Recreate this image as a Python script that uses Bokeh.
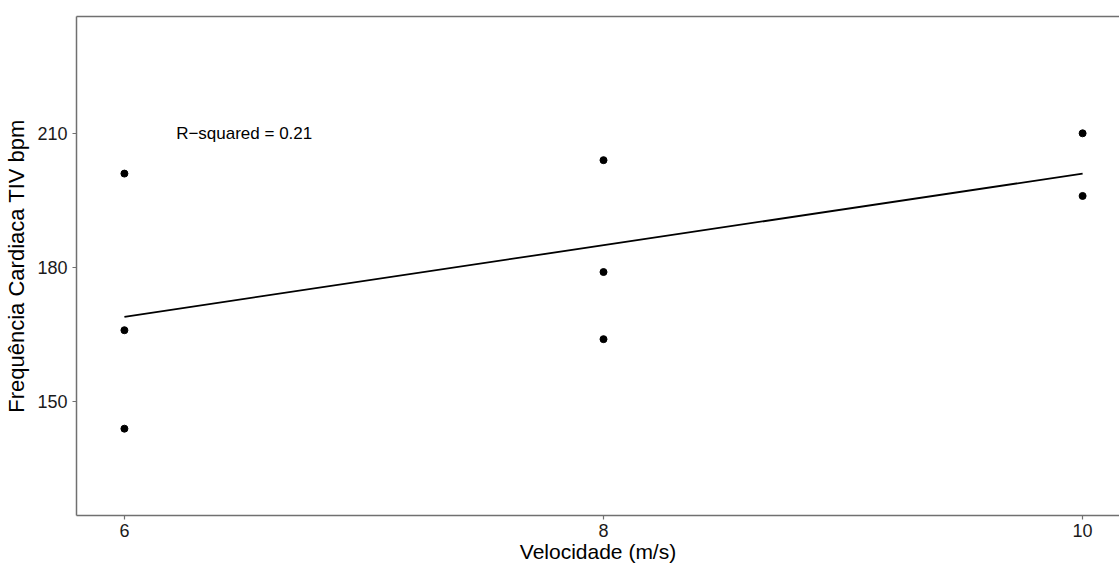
import numpy as np
from bokeh.plotting import figure
from bokeh.models import Range1d, LinearAxis, FixedTicker
from bokeh.embed import file_html
from bokeh.resources import INLINE
from bokeh.core.properties import value

# ---- data ----
velocidade = [6, 6, 6, 8, 8, 8, 10, 10]
frequencia = [201, 166, 144, 204, 179, 164, 210, 196]
x_ticks = [6, 8, 10]
y_ticks = [150, 180, 210]
x_title = "Velocidade (m/s)"
y_title = "Frequência Cardiaca TIV bpm"
r2_label = ["R\u2212squared = 0.21"]
anno_x = [6.5]
anno_y = [210]

# linear fit (geom_smooth(method="lm", se=FALSE))
slope, intercept = np.polyfit(velocidade, frequencia, 1)
fit_x = [min(velocidade), max(velocidade)]
fit_y = [intercept + slope * xv for xv in fit_x]

FONT = "Liberation Sans"
AXIS_GREY = "#707070"

p = figure(width=1119, height=565, output_backend="svg", toolbar_location=None,
           x_range=Range1d(5.8, 10.154), y_range=Range1d(124.6, 236.1),
           min_border_left=76, min_border_right=0, min_border_top=16, min_border_bottom=0)
p.outline_line_color = None
p.background_fill_color = "white"
p.border_fill_color = "white"
p.xgrid.visible = False
p.ygrid.visible = False

for ax, ticks in ((p.xaxis, x_ticks), (p.yaxis, y_ticks)):
    ax.ticker = FixedTicker(ticks=ticks)
    ax.axis_line_color = AXIS_GREY
    ax.axis_line_width = 1.5
    ax.major_tick_line_color = AXIS_GREY
    ax.major_tick_line_width = 1.2
    ax.major_tick_out = 4
    ax.major_tick_in = 0
    ax.minor_tick_line_color = None
    ax.major_label_text_font = FONT
    ax.major_label_text_font_size = "18px"
    ax.major_label_text_color = "#1a1a1a"
    ax.axis_label_text_font = FONT
    ax.axis_label_text_font_style = "normal"
    ax.axis_label_text_color = "black"

p.xaxis.axis_label = x_title
p.xaxis.axis_label_text_font_size = "21px"
p.xaxis.major_label_standoff = 4
p.xaxis.axis_label_standoff = 0
p.yaxis.axis_label = y_title
p.yaxis.axis_label_text_font_size = "22px"
p.yaxis.major_label_standoff = 5
p.yaxis.axis_label_standoff = 5

top_axis = LinearAxis(ticker=FixedTicker(ticks=[]), axis_line_color=AXIS_GREY,
                      axis_line_width=1.5, major_tick_line_color=None,
                      minor_tick_line_color=None, major_label_text_font_size="0px")
p.add_layout(top_axis, "above")

p.line(fit_x, fit_y, line_color="black", line_width=1.8)
p.scatter(velocidade, frequencia, size=7, color="black")
p.text(x=anno_x, y=anno_y, text=r2_label, text_font=value(FONT),
       text_font_size="17px", text_align="center", text_baseline="middle",
       text_color="black")

open("out.html", "w").write(file_html(p, INLINE))
